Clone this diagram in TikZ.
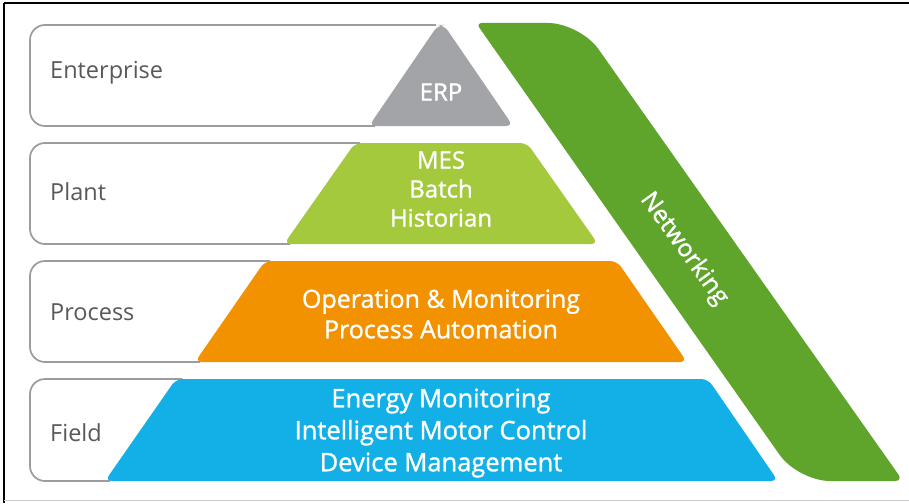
\documentclass[tikz,border=0pt]{standalone}
\usepackage{fontspec}
\setmainfont{Open Sans}
\newfontfamily\semib{Open Sans}[FakeBold=1.2]
\definecolor{ergray}{HTML}{A2A4A7}
\definecolor{plantgreen}{HTML}{A5C93D}
\definecolor{procorange}{HTML}{F39200}
\definecolor{fieldblue}{HTML}{12B0E6}
\definecolor{netgreen}{HTML}{5FA52B}
\definecolor{labelgray}{HTML}{58595B}
\definecolor{outlgray}{HTML}{9C9C9C}
\tikzset{
  outl/.style={draw=outlgray, line width=1.7pt, rounded corners=15pt},
  trapfill/.style={rounded corners=7pt},
  rowlabel/.style={anchor=west, text=labelgray, font=\fontsize{23.5}{28}\selectfont, inner sep=0pt},
  inner/.style={align=center, text=white, inner sep=0pt},
}
\begin{document}
\begin{tikzpicture}[x=1pt,y=-1pt]
\useasboundingbox (0,0) rectangle (909,503);
\fill[white] (0,0) rectangle (909,503);
% frame
\draw[black, line width=1.6pt] (4,3) -- (909,3);
\draw[black, line width=1.6pt] (4,3) -- (4,503);
\draw[gray!40, line width=0.8pt] (4,500) -- (909,500);

% networking band
\fill[netgreen] (528,23) [rounded corners=32pt] -- (580,23) [rounded corners=8pt] -- (903,481) [rounded corners=32pt] -- (798,481) [rounded corners=6pt] -- (476,23) -- cycle;
\node[text=white, rotate=-54, font=\semib\fontsize{24.5}{28}\selectfont, inner sep=0pt] (net) at (684,249) {Networking};

% Enterprise
\draw[outl] (436,25) -- (30,25) -- (30,126) -- (375,126);
\fill[ergray, trapfill] (369,126) -- (438,25) -- (444,25) -- (513,126) -- cycle;
\node[rowlabel] (ent) at (50,73) {Enterprise};
\node[inner, font=\semib\fontsize{24}{28}\selectfont] (erp) at (441,92) {ERP};

% Plant
\draw[outl] (360,143) -- (30,143) -- (30,244) -- (290,244);
\fill[plantgreen, trapfill] (284,244) -- (355,143) -- (527,143) -- (598,244) -- cycle;
\node[rowlabel] (plant) at (50,192) {Plant};
\node[inner, font=\semib\fontsize{24}{29}\selectfont] (pt) at (441,189) {MES\\Batch\\Historian};

% Process
\draw[outl] (270,261) -- (30,261) -- (30,362) -- (200,362);
\fill[procorange, trapfill] (195,362) -- (265,261) -- (617,261) -- (687,362) -- cycle;
\node[rowlabel] (proc) at (50,312) {Process};
\node[inner, font=\semib\fontsize{25}{30.5}\selectfont] (pr) at (441,314) {Operation \& Monitoring\\Process Automation};

% Field
\draw[outl] (182,379) -- (30,379) -- (30,481) -- (110,481);
\fill[fieldblue, trapfill] (105,481) -- (176,379) -- (708,379) -- (778,481) -- cycle;
\node[rowlabel] (field) at (50,433) {Field};
\node[inner, font=\semib\fontsize{25.5}{32}\selectfont] (fd) at (441,433) {Energy Monitoring\\Intelligent Motor Control\\Device Management};
\end{tikzpicture}
\end{document}
